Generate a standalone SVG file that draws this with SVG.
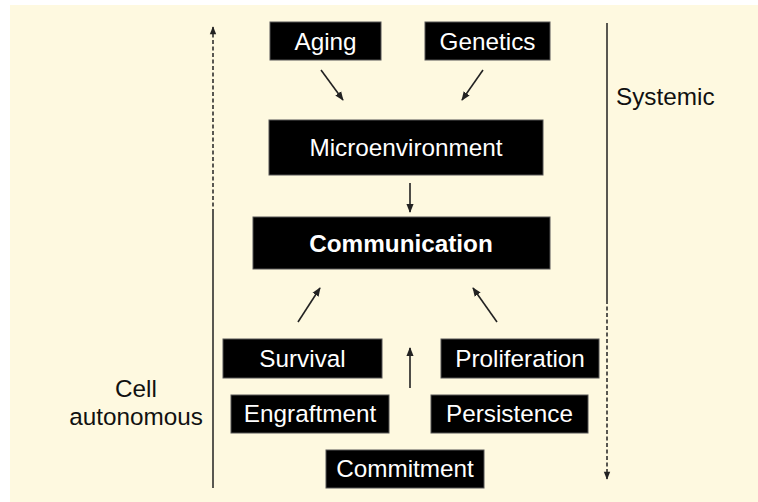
<svg xmlns="http://www.w3.org/2000/svg" width="758" height="502" viewBox="0 0 758 502">
<defs>
<style>
.box{fill:#000;stroke:#555;stroke-width:1}
.lbl{fill:#fff;font-family:"Liberation Sans",Arial,sans-serif;font-size:24.3px;text-anchor:middle}
.side{fill:#111;font-family:"Liberation Sans",Arial,sans-serif;font-size:24.3px}
.conn{stroke:#222;stroke-width:1.6;fill:none}
.axis{stroke:#222;stroke-width:1.5;fill:none}
.dash{stroke-dasharray:4,2.5}
</style>
<marker id="ah" viewBox="0 0 10 10" refX="9" refY="5" markerWidth="9" markerHeight="8" markerUnits="userSpaceOnUse" orient="auto"><path d="M0,1 L10,5 L0,9 z" fill="#222"/></marker>
<marker id="ahb" viewBox="0 0 10 10" refX="9" refY="5" markerWidth="9" markerHeight="9" markerUnits="userSpaceOnUse" orient="auto"><path d="M0,1 L10,5 L0,9 z" fill="#222"/></marker>
</defs>
<rect x="0" y="0" width="758" height="502" fill="#fff"/>
<rect x="10" y="5" width="748" height="497" fill="#FEF9E0"/>
<g id="connectors">
<line class="conn" x1="321" y1="70" x2="343" y2="100" marker-end="url(#ahb)"/>
<line class="conn" x1="483" y1="70" x2="462" y2="100" marker-end="url(#ahb)"/>
<line class="conn" x1="410" y1="183" x2="410" y2="212" marker-end="url(#ahb)"/>
<line class="conn" x1="298" y1="322" x2="320" y2="288" marker-end="url(#ahb)"/>
<line class="conn" x1="497" y1="322" x2="473" y2="288" marker-end="url(#ahb)"/>
<line class="conn" x1="410" y1="388" x2="410" y2="348" marker-end="url(#ahb)"/>
<line class="axis" x1="213" y1="488" x2="213" y2="213"/>
<line class="axis dash" x1="213" y1="213" x2="213" y2="27" marker-end="url(#ah)"/>
<line class="axis" x1="607" y1="23" x2="607" y2="300"/>
<line class="axis dash" x1="607" y1="300" x2="607" y2="479" marker-end="url(#ah)"/>
</g>
<g id="aging"><rect class="box" x="270" y="22" width="111" height="38"/><text class="lbl" x="325.5" y="49.5">Aging</text></g>
<g id="genetics"><rect class="box" x="425" y="22" width="125" height="38"/><text class="lbl" x="487.5" y="49.5">Genetics</text></g>
<g id="microenvironment"><rect class="box" x="269" y="120" width="274" height="55"/><text class="lbl" x="406" y="155.5">Microenvironment</text></g>
<g id="communication"><rect class="box" x="253" y="217" width="297" height="52"/><text class="lbl" x="401" y="251.5" font-weight="bold">Communication</text></g>
<g id="survival"><rect class="box" x="223" y="339" width="159" height="39"/><text class="lbl" x="302.5" y="366.5">Survival</text></g>
<g id="proliferation"><rect class="box" x="441" y="339" width="158" height="39"/><text class="lbl" x="520" y="366.5">Proliferation</text></g>
<g id="engraftment"><rect class="box" x="231" y="395" width="158" height="38"/><text class="lbl" x="310" y="421.5">Engraftment</text></g>
<g id="persistence"><rect class="box" x="431" y="395" width="157" height="38"/><text class="lbl" x="509.5" y="421.5">Persistence</text></g>
<g id="commitment"><rect class="box" x="326" y="450" width="158" height="38"/><text class="lbl" x="405" y="476.5">Commitment</text></g>
<g id="systemic"><text class="side" x="616" y="105">Systemic</text></g>
<g id="cell-autonomous"><text class="side" x="136" y="397" text-anchor="middle">Cell</text><text class="side" x="136" y="425" text-anchor="middle">autonomous</text></g>
</svg>
